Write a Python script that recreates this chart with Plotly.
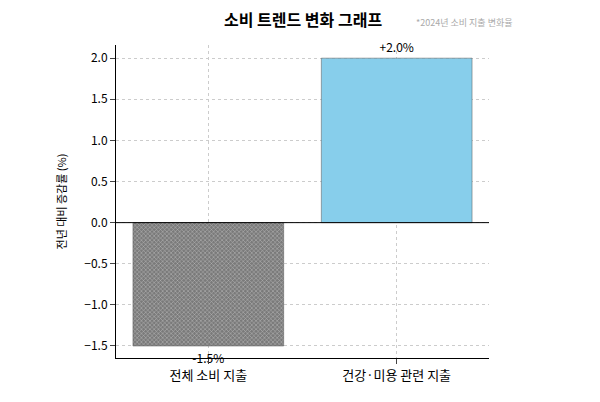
import plotly.graph_objects as go

categories = ["전체 소비 지출", "건강·미용 관련 지출"]
values = [-1.5, 2.0]
labels = ["-1.5%", "+2.0%"]
colors = ["#7a7a7a", "#87ceeb"]

fig = go.Figure(go.Bar(x=[0, 1], y=values, width=0.8, marker=dict(color=colors, line=dict(color="#555", width=0.5),
                pattern=dict(shape=["x", ""], size=3, solidity=0.3, fgcolor="#555")),
                text=labels, textposition="outside", textfont=dict(size=12, color="black"), cliponaxis=False))
fig.add_hline(y=0, line=dict(color="black", width=1))
fig.update_layout(
    width=600, height=402, plot_bgcolor="white", paper_bgcolor="white", showlegend=False,
    margin=dict(l=108, r=119, t=37, b=52), font=dict(family="Noto Sans CJK KR", color="black"),
    annotations=[
        dict(text="<b>소비 트렌드 변화 그래프</b>", x=0.5, y=1, xref="paper", yref="paper", xanchor="center", yanchor="bottom", yshift=12, showarrow=False, font=dict(size=16)),
        dict(text="*2024년 소비 지출 변화율", x=0.8, y=1, xref="paper", yref="paper", xanchor="left", yanchor="bottom", yshift=14, showarrow=False, font=dict(size=9, color="#aaa")),
    ],
)
fig.update_xaxes(range=[-0.49, 1.49], tickvals=[0, 1], ticktext=categories, tickfont=dict(size=13),
                 showline=True, linecolor="black", ticks="outside", showgrid=True, gridcolor="#ccc", griddash="dot", zeroline=False)
fig.update_yaxes(range=[-1.646, 2.16], dtick=0.5, tickformat=".1f", tickfont=dict(size=12),
                 title=dict(text="전년 대비 증감률 (%)", font=dict(size=11)), showline=True, linecolor="black", ticks="outside",
                 showgrid=True, gridcolor="#ccc", griddash="dot", zeroline=False)
fig.write_html("out.html")
